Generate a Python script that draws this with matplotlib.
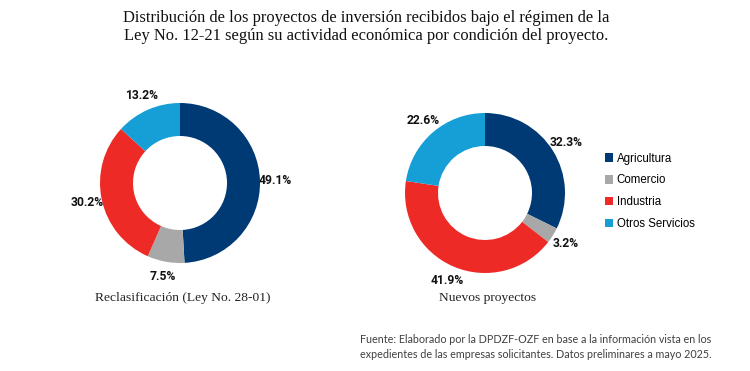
import matplotlib
matplotlib.use("Agg")
import matplotlib.pyplot as plt
from matplotlib.patches import Patch

W, H = 750, 371
DPI = 100

categories = ['Agricultura', 'Comercio', 'Industria', 'Otros Servicios']
colors = ['#003A75', '#A8A8A8', '#EE2A26', '#159FD6']

reclasificacion = [49.1, 7.5, 30.2, 13.2]
nuevos = [32.3, 3.2, 41.9, 22.6]

title = ('Distribución de los proyectos de inversión recibidos bajo el régimen de la\n'
         'Ley No. 12-21 según su actividad económica por condición del proyecto.')
subtitles = ['Reclasificación (Ley No. 28-01)', 'Nuevos proyectos']
fuente = ('Fuente: Elaborado por la DPDZF-OZF en base a la información vista en los\n'
          'expedientes de las empresas solicitantes. Datos preliminares a mayo 2025.')

fig = plt.figure(figsize=(W / DPI, H / DPI), dpi=DPI)
ax = fig.add_axes([0, 0, 1, 1])

# pixel coordinates, y measured from the top of the image
def px(x, y):
    return (x, H - y)

serif = 'Liberation Serif'

for vals, cx, cy, sub in [(reclasificacion, 180, 183, subtitles[0]),
                          (nuevos, 485, 193, subtitles[1])]:
    wedges, texts, autotexts = ax.pie(
        vals, colors=colors, startangle=90, counterclock=False,
        radius=80, center=px(cx, cy),
        wedgeprops=dict(width=33, edgecolor='none'),
        autopct='%.1f%%', pctdistance=1.19,
        textprops=dict(fontsize=8.7, fontweight='bold', color='#111111',
                       family='Roboto'))
    ax.text(*px(cx + 3, 298), sub, ha='center', va='center',
            fontsize=9.7, family=serif, color='#222222')

ax.set_xlim(0, W)
ax.set_ylim(0, H)
ax.set_aspect('equal')
ax.axis('off')

fig.text(366 / W, 1 - 27 / H, title, ha='center', va='center',
         fontsize=11.9, family=serif, color='#111111', linespacing=1.2)

handles = [Patch(facecolor=c, edgecolor='none') for c in colors]
fig.legend(handles, categories, loc='upper left',
           bbox_to_anchor=(600 / W, 1 - 148 / H), frameon=False,
           prop=dict(family='Liberation Sans', size=8.3),
           handlelength=0.75, handleheight=0.75, handletextpad=0.3,
           labelspacing=0.85, borderaxespad=0)

fig.text(536 / W, 1 - 347 / H, fuente, ha='center', va='center',
         fontsize=7.75, family='Lato', color='#404040', linespacing=1.5)

fig.savefig('out.png', dpi=DPI)
